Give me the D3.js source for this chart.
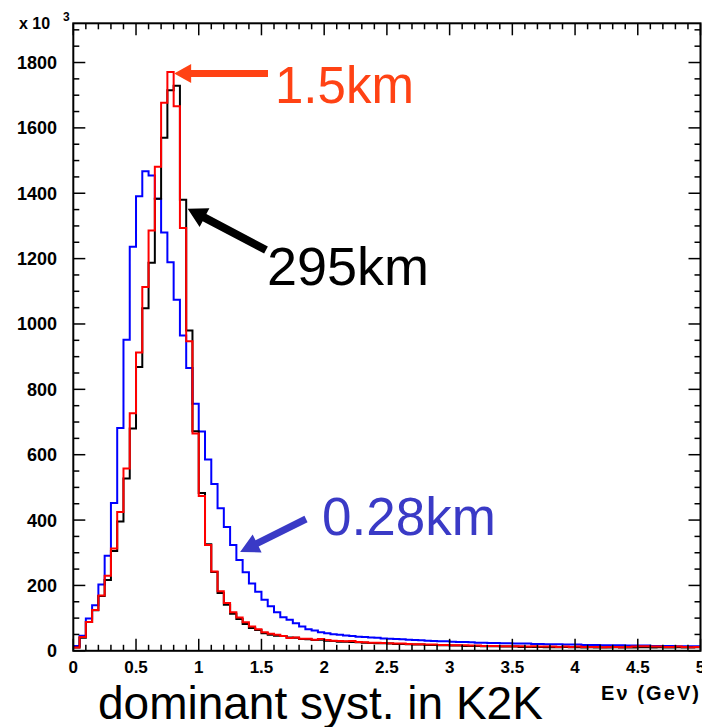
<!DOCTYPE html>
<html>
<head>
<meta charset="utf-8">
<script src="https://cdn.jsdelivr.net/npm/d3@7"></script>
<style>
  html, body { margin: 0; padding: 0; background: #fff; }
  svg { display: block; }
  text { font-family: "Liberation Sans", Arial, Helvetica, sans-serif; }
</style>
</head>
<body>
<svg id="chart" width="702" height="727"></svg>
<script>
// Neutrino energy spectra (counts x 10^3 per 0.05 GeV bin) at three baselines
const binEdgesGeV = d3.range(0, 101).map(i => i * 0.05);

const near028 = [
  15, 46, 99, 139, 203, 291, 452, 682, 952, 1236,
  1391, 1467, 1454, 1383, 1280, 1189, 1074, 965, 865, 756,
  671, 585, 510, 436, 379, 324, 278, 240, 206, 181,
  156, 136, 118, 103, 95, 84, 74, 66, 62, 57,
  54, 51, 49, 47, 45, 43, 42, 41, 40, 38,
  37, 36, 35, 34, 33, 32, 31, 30, 29, 29,
  28, 27, 27, 26, 25, 25, 24, 24, 23, 23,
  22, 22, 22, 21, 21, 20, 20, 20, 19, 19,
  19, 18, 18, 18, 17, 17, 17, 17, 16, 16,
  16, 16, 15, 15, 15, 15, 14, 14, 14, 14
];

const near15 = [
  10, 42, 88, 125, 169, 230, 313, 425, 558, 727,
  913, 1113, 1286, 1481, 1677, 1771, 1666, 1294, 947, 665,
  474, 324, 243, 182, 146, 118, 102, 87, 74, 66,
  57, 52, 49, 45, 39, 41, 37, 37, 34, 36,
  33, 31, 30, 29, 30, 27, 26, 25, 25, 24,
  23, 22, 22, 21, 20, 20, 19, 19, 18, 18,
  17, 17, 17, 16, 16, 15, 15, 15, 14, 14,
  14, 14, 13, 14, 13, 13, 13, 12, 13, 12,
  13, 12, 12, 12, 11, 12, 12, 11, 12, 13,
  14, 14, 13, 13, 12, 12, 13, 12, 11, 12
];

const far295 = [
  10, 40, 88, 124, 168, 217, 305, 396, 527, 680,
  868, 1048, 1187, 1383, 1570, 1715, 1729, 1380, 980, 672,
  483, 326, 241, 177, 141, 113, 97, 82, 70, 64,
  54, 49, 46, 45, 41, 40, 36, 35, 33, 34,
  31, 30, 28, 28, 27, 26, 25, 24, 23, 23,
  22, 21, 21, 20, 19, 19, 18, 18, 17, 17,
  16, 16, 15, 15, 15, 14, 14, 14, 13, 13,
  13, 12, 12, 12, 12, 11, 11, 11, 12, 11,
  11, 10, 11, 10, 10, 10, 11, 10, 10, 10,
  11, 11, 10, 11, 10, 10, 11, 10, 10, 11
];

const xTickValues = d3.range(0, 5.001, 0.5);
const xTickLabels = ["0", "0.5", "1", "1.5", "2", "2.5", "3", "3.5", "4", "4.5", "5"];
const yTickValues = d3.range(0, 1801, 200);
const yTickLabels = ["0", "200", "400", "600", "800", "1000", "1200", "1400", "1600", "1800"];

const svg = d3.select("#chart");

const frame = { left: 73.3, right: 700.5, top: 23.3, bottom: 650.8 };
const x = d3.scaleLinear().domain([0, 5]).range([frame.left, frame.right]);
const y = d3.scaleLinear().domain([0, 1920]).range([frame.bottom, frame.top]);

// Histograms as step lines
const step = d3.line()
  .x(d => x(d[0]))
  .y(d => y(d[1]))
  .curve(d3.curveStepAfter);

function histPoints(values) {
  const pts = values.map((v, i) => [binEdgesGeV[i], v]);
  pts.push([binEdgesGeV[values.length], values[values.length - 1]]);
  return pts;
}

const series = [
  { values: near028, color: "#0000ff" },
  { values: far295, color: "#000000" },
  { values: near15, color: "#ff0000" }
];

svg.append("g").selectAll("path")
  .data(series)
  .join("path")
  .attr("d", s => step(histPoints(s.values)))
  .attr("fill", "none")
  .attr("stroke", s => s.color)
  .attr("stroke-width", 2)
  .attr("stroke-linejoin", "miter");

// Frame and ticks
const axisG = svg.append("g").attr("stroke", "#000");
axisG.append("rect")
  .attr("x", frame.left).attr("y", frame.top)
  .attr("width", frame.right - frame.left).attr("height", frame.bottom - frame.top)
  .attr("fill", "none").attr("stroke-width", 2);

const xMinor = d3.range(0, 5.001, 0.1).map(v => +v.toFixed(2));
const yMinor = d3.range(0, 1901, 50);
const majorLen = 12, minorLen = 6;

xMinor.forEach(v => {
  const isMajor = Math.abs(v * 2 - Math.round(v * 2)) < 1e-6;
  const len = isMajor ? majorLen : minorLen;
  axisG.append("line").attr("x1", x(v)).attr("x2", x(v))
    .attr("y1", frame.bottom).attr("y2", frame.bottom - len).attr("stroke-width", 1.5);
  axisG.append("line").attr("x1", x(v)).attr("x2", x(v))
    .attr("y1", frame.top).attr("y2", frame.top + len).attr("stroke-width", 1.5);
});
yMinor.forEach(v => {
  const isMajor = v % 200 === 0;
  const len = isMajor ? majorLen : minorLen;
  axisG.append("line").attr("y1", y(v)).attr("y2", y(v))
    .attr("x1", frame.left).attr("x2", frame.left + len).attr("stroke-width", 1.5);
  axisG.append("line").attr("y1", y(v)).attr("y2", y(v))
    .attr("x1", frame.right).attr("x2", frame.right - len).attr("stroke-width", 1.5);
});

// Tick labels
svg.append("g").selectAll("text")
  .data(xTickValues)
  .join("text")
  .attr("x", d => x(d))
  .attr("y", 673)
  .attr("text-anchor", "middle")
  .attr("font-size", 17)
  .attr("font-weight", "bold")
  .text((d, i) => xTickLabels[i]);

svg.append("g").selectAll("text")
  .data(yTickValues)
  .join("text")
  .attr("x", 57)
  .attr("y", d => y(d) + 6.5)
  .attr("text-anchor", "end")
  .attr("font-size", 18)
  .attr("font-weight", "bold")
  .text((d, i) => yTickLabels[i]);

// Axis multiplier
svg.append("text").attr("x", 19).attr("y", 29)
  .attr("font-size", 16).attr("font-weight", "bold")
  .text("x 10");
svg.append("text").attr("x", 63).attr("y", 21)
  .attr("font-size", 12).attr("font-weight", "bold").text("3");

// X axis title
svg.append("text").attr("x", 601).attr("y", 700)
  .attr("font-size", 20).attr("font-weight", "bold")
  .attr("textLength", 98).attr("lengthAdjust", "spacing")
  .text("Eν (GeV)");

// Caption
svg.append("text").attr("x", 98).attr("y", 719)
  .attr("font-size", 46).attr("fill", "#000")
  .text("dominant syst. in K2K");

// Arrows pointing at the distributions
function arrowPath(x0, y0, x1, y1, shaftW, headL, headW) {
  const dx = x1 - x0, dy = y1 - y0;
  const L = Math.hypot(dx, dy);
  const ux = dx / L, uy = dy / L;
  const nx = -uy, ny = ux;
  const bx = x1 - ux * headL, by = y1 - uy * headL;
  const p = [
    [x0 + nx * shaftW / 2, y0 + ny * shaftW / 2],
    [bx + nx * shaftW / 2, by + ny * shaftW / 2],
    [bx + nx * headW / 2, by + ny * headW / 2],
    [x1, y1],
    [bx - nx * headW / 2, by - ny * headW / 2],
    [bx - nx * shaftW / 2, by - ny * shaftW / 2],
    [x0 - nx * shaftW / 2, y0 - ny * shaftW / 2]
  ];
  return "M" + p.map(q => q.join(",")).join("L") + "Z";
}

const notes = [
  { label: "1.5km", color: "#ff4214", tx: 275, ty: 103, size: 51,
    tip: [x(0.8) + 0.5, y(near15[15]) + 1.5], tail: [268, 73.5], shaftW: 7, headL: 17, headW: 19 },
  { label: "295km", color: "#000000", tx: 267, ty: 285, size: 54,
    tip: [x(0.9) + 1.5, y(far295[17]) + 9], tail: [266, 250], shaftW: 8, headL: 19, headW: 21 },
  { label: "0.28km", color: "#3a3ac6", tx: 322, ty: 535, size: 53,
    tip: [x(1.35) - 2.5, y(near028[26]) - 8], tail: [306, 519], shaftW: 7, headL: 19, headW: 20 }
];

const noteG = svg.append("g");
notes.forEach(n => {
  noteG.append("path")
    .attr("d", arrowPath(n.tail[0], n.tail[1], n.tip[0], n.tip[1], n.shaftW, n.headL, n.headW))
    .attr("fill", n.color);
  noteG.append("text")
    .attr("x", n.tx).attr("y", n.ty)
    .attr("font-size", n.size).attr("fill", n.color)
    .text(n.label);
});
</script>
</body>
</html>
